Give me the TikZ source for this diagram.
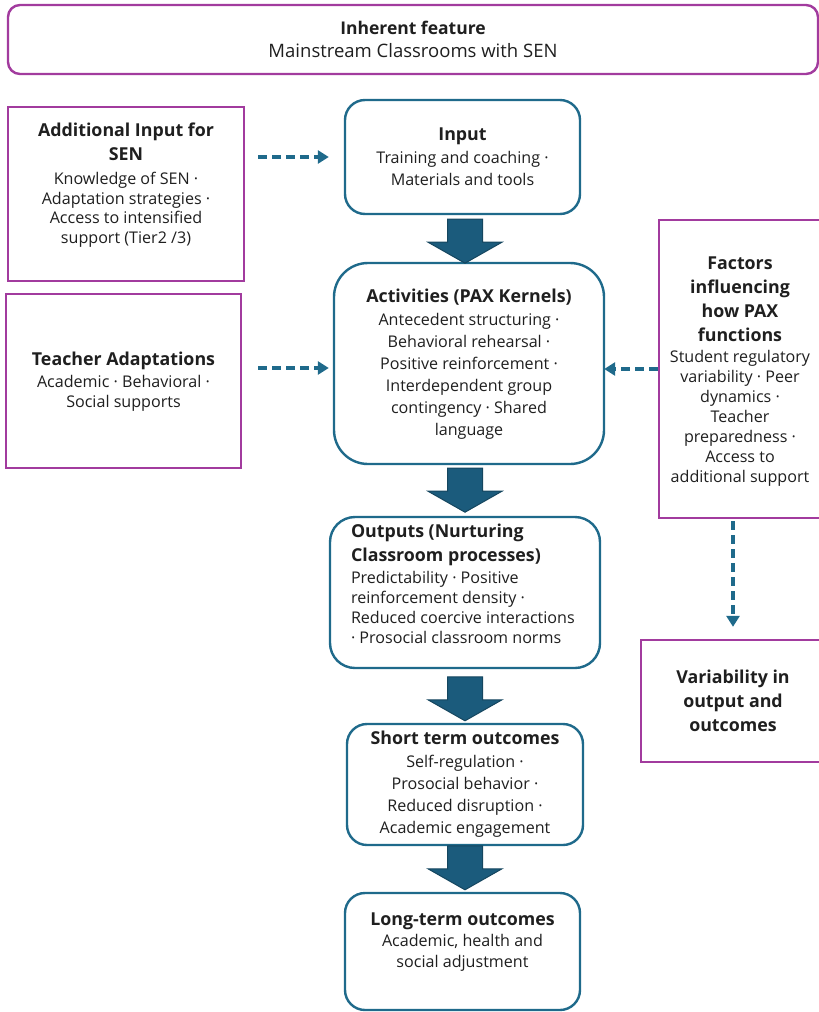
\documentclass[tikz,border=0pt]{standalone}
\usepackage{fontspec}
\setmainfont{Open Sans}
\usetikzlibrary{calc,arrows.meta}
\definecolor{pur}{HTML}{A23B9E}
\definecolor{tealc}{HTML}{1F6A8B}
\definecolor{arrfill}{HTML}{1B5B7C}
\definecolor{arrline}{HTML}{15465F}
\newcommand\hd{\fontsize{17.8}{17.8}\selectfont\bfseries}
\newcommand\bsz[1]{\fontsize{16.1}{#1}\selectfont}
\begin{document}
\begin{tikzpicture}[x=1pt,y=-1pt,
  purbox/.style={draw=pur, line width=2.4pt, fill=white, inner sep=0pt},
  bluebox/.style={draw=tealc, line width=2.4pt, fill=white, inner sep=0pt},
  txt/.style={align=center, inner sep=0pt, text=black!88},
  dasharr/.style={draw=tealc, line width=3.2pt, dash pattern=on 9pt off 5pt, -{Triangle[length=11pt,width=13pt]}},
  bigarr/.style={fill=arrfill, draw=arrline, line width=1pt, line join=miter}
]
\useasboundingbox (0,0) rectangle (819,1012);
\begin{scope}
\clip (0,0) rectangle (819,1012);
% boxes
\node[purbox, rounded corners=12pt, minimum width=810pt, minimum height=69pt] (top) at (413,39.5) {};
\node[purbox, minimum width=236pt, minimum height=174pt] (addin) at (126,194) {};
\node[purbox, minimum width=235pt, minimum height=174pt] (teach) at (123.5,381) {};
\node[bluebox, rounded corners=20pt, minimum width=235pt, minimum height=114pt] (input) at (462.5,157) {};
\node[bluebox, rounded corners=34pt, minimum width=270pt, minimum height=201pt] (act) at (469,363.5) {};
\node[bluebox, rounded corners=25pt, minimum width=270pt, minimum height=151pt] (outp) at (465,592.5) {};
\node[bluebox, rounded corners=20pt, minimum width=236pt, minimum height=121pt] (short) at (465,784.5) {};
\node[bluebox, rounded corners=20pt, minimum width=235pt, minimum height=117pt] (long) at (462.5,951.5) {};
\node[purbox, minimum width=164pt, minimum height=298pt] (fact) at (741,369) {};
\node[purbox, minimum width=184pt, minimum height=122pt] (var) at (733,701) {};
\end{scope}
% texts
\node[txt, font=\fontsize{18.5}{23}\selectfont] (toptxt) at (top.center) {{\fontsize{17.5}{17.5}\selectfont\bfseries Inherent feature}\\Mainstream Classrooms with SEN};
\node[txt, font=\bsz{19.5}] (addintxt) at ($(addin.center)+(0,-9)$) {{\hd Additional Input for}\\[4.5pt]{\hd SEN}\\[4.5pt]Knowledge of SEN ·\\Adaptation strategies ·\\Access to intensified\\support (Tier2 /3)};
\node[txt, font=\bsz{20}] (teachtxt) at ($(teach.center)+(0,1)$) {{\hd Teacher Adaptations}\\[2pt]Academic · Behavioral ·\\Social supports};
\node[txt, font=\bsz{22}] (inputtxt) at (input.center) {{\hd Input}\\[1pt]Training and coaching ·\\Materials and tools};
\node[txt, font=\bsz{22}] (acttxt) at ($(act.center)+(0,1)$) {{\hd Activities (PAX Kernels)}\\[1pt]Antecedent structuring ·\\Behavioral rehearsal ·\\Positive reinforcement ·\\Interdependent group\\contingency · Shared\\language};
\node[txt, font=\bsz{20}, align=left, anchor=west] (outptxt) at ($(outp.west)+(22,-9)$) {{\hd Outputs (Nurturing}\\[4pt]{\hd Classroom processes)}\\[2pt]Predictability · Positive\\reinforcement density ·\\Reduced coercive interactions\\· Prosocial classroom norms};
\node[txt, font=\bsz{22}] (shorttxt) at (short.center) {{\hd Short term outcomes}\\[1pt]Self-regulation ·\\Prosocial behavior ·\\Reduced disruption ·\\Academic engagement};
\node[txt, font=\bsz{21}] (longtxt) at ($(long.center)+(0,-9.5)$) {{\hd Long-term outcomes}\\Academic, health and\\social adjustment};
\node[txt, font=\bsz{20}] (facttxt) at ($(fact.center)+(-1,2.5)$) {{\hd Factors}\\[4pt]{\hd influencing}\\[4pt]{\hd how PAX}\\[4pt]{\hd functions}\\[1pt]Student regulatory\\variability · Peer\\dynamics ·\\Teacher\\preparedness ·\\Access to\\additional support};
\node[txt, font=\bsz{24}] (vartxt) at (var.center) {{\hd Variability in}\\{\hd output and}\\{\hd outcomes}};
% dashed connectors
\coordinate (tA) at ($(teach.east)+(0,-13)$);
\draw[dasharr, shorten <=13pt, shorten >=15pt] (addin.east |- input.west) -- (input.west);
\draw[dasharr, shorten <=16pt, shorten >=4pt] (tA) -- (tA -| act.west);
\draw[dasharr, shorten >=-1pt] (fact.west) -- (fact.west -| act.east);
\draw[dasharr, shorten <=2pt, shorten >=12pt] (var.north |- fact.south) -- (var.north);
% block arrows
\newcommand\bigarrow[1]{\filldraw[bigarr] (#1) ++(-17.5,0) -- ++(35,0) -- ++(0,23) -- ++(19.5,0) -- ++(-37,21) -- ++(-37,-21) -- ++(19.5,0) -- cycle;}
\bigarrow{$(input.south)+(2.5,4)$}
\bigarrow{$(act.south)+(-4,3)$}
\bigarrow{$(short.north)+(0,-46)$}
\bigarrow{$(long.north)+(2.5,-46)$}
\end{tikzpicture}
\end{document}
